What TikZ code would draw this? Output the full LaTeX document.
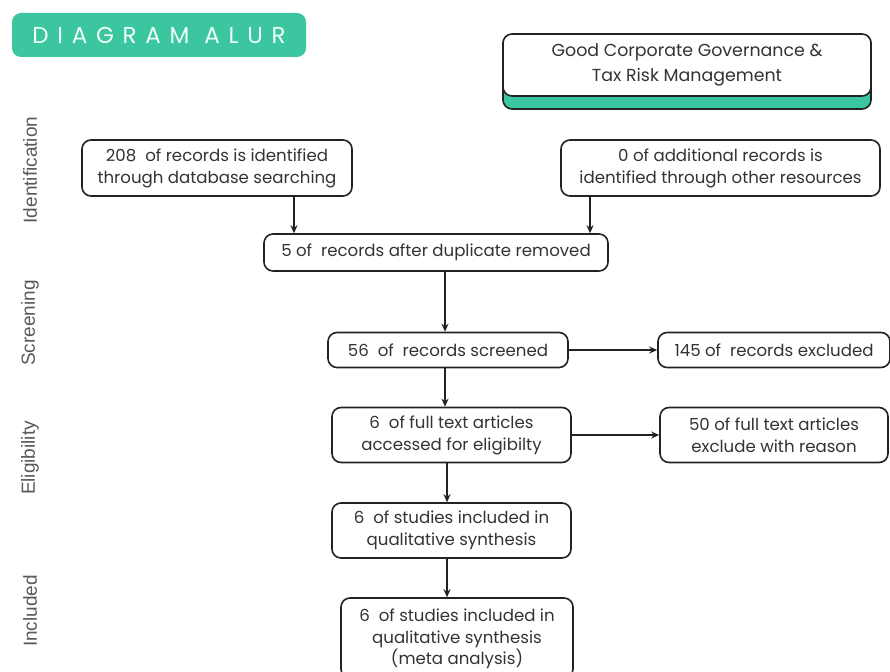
\documentclass[tikz,border=0pt]{standalone}
\usepackage{fontspec}
\setmainfont{Poppins}
\newfontfamily\sidefont{Liberation Sans}
\usetikzlibrary{arrows.meta}
\definecolor{teal1}{HTML}{3CC6A0}
\definecolor{ink}{HTML}{222222}
\definecolor{txt}{HTML}{333333}
\definecolor{mint}{HTML}{EFFFF8}
\tikzset{
  box/.style={draw=ink, line width=1.6pt, rounded corners=9pt, fill=white, align=center,
    text=txt, font=\fontsize{16.6}{22}\selectfont, inner sep=0pt},
  conn/.style={draw=ink, line width=1.7pt, -{Stealth[length=8pt,width=7pt]}},
  side/.style={rotate=90, text=black!65, font=\sidefont\fontsize{19}{22}\selectfont}
}
\begin{document}
\begin{tikzpicture}[x=1pt,y=-1pt]
\clip (0,0) rectangle (890,671);
\fill[white] (0,0) rectangle (890,671);
% title
\node[fill=teal1, rounded corners=9pt, minimum width=294pt, minimum height=44pt, inner sep=0pt,
  text=mint, font=\fontsize{23}{26}\selectfont\addfontfeature{LetterSpace=38}] (title) at (159,35) {DIAGRAM ALUR};
% GCG
\node[draw=ink, line width=1.6pt, rounded corners=9pt, fill=teal1, minimum width=368pt, minimum height=74pt] (gcgbase) at (687,72) {};
\node[box, minimum width=368pt, minimum height=62pt, font=\fontsize{17.4}{25}\selectfont] (gcg) at (687,65) {Good Corporate Governance \&\\Tax Risk Management};
% side labels
\node[side] (lid) at (30,170) {Identification};
\node[side] (lsc) at (30,323) {Screening};
\node[side] (lel) at (30,458) {Eligibility};
\node[side] (lin) at (30,611) {Included};
% boxes
\node[box, minimum width=270pt, minimum height=56pt] (a) at (217,168) {208\ \ of records is identified\\through database searching};
\node[box, minimum width=319pt, minimum height=56pt] (b) at (720.5,168) {0 of additional records is\\identified through other resources};
\node[box, minimum width=344pt, minimum height=37pt] (c) at (436,252.5) {5 of\ \ records after duplicate removed};
\node[box, minimum width=240pt, minimum height=35pt] (d) at (448,350) {56\ \ of\ \ records screened};
\node[box, minimum width=232pt, minimum height=35pt] (e) at (774,350) {145 of\ \ records excluded};
\node[box, minimum width=239pt, minimum height=55pt] (f) at (451.5,435) {6\ \ of full text articles\\accessed for eligibilty};
\node[box, minimum width=228pt, minimum height=55pt] (g) at (774,435) {50 of full text articles\\exclude with reason};
\node[box, minimum width=239pt, minimum height=55pt] (h) at (451.5,530.5) {6\ \ of studies included in\\qualitative synthesis};
\node[box, minimum width=232pt, minimum height=80pt] (i) at (457,638) {};
\node[align=center, text=txt, font=\fontsize{16.6}{21.5}\selectfont, inner sep=0pt] (itext) at (457,639) {6\ \ of studies included in\\qualitative synthesis\\(meta analysis)};
% connectors
\draw[conn] (a.south -| 294,0) -- (c.north -| 294,0);
\draw[conn] (b.south -| 590,0) -- (c.north -| 590,0);
\draw[conn] (c.south -| 445,0) -- (d.north -| 445,0);
\draw[conn] (d.east) -- (e.west);
\draw[conn] (d.south -| 445,0) -- (f.north -| 445,0);
\draw[conn] (f.east) -- (g.west);
\draw[conn] (f.south -| 447,0) -- (h.north -| 447,0);
\draw[conn] (h.south -| 447,0) -- (i.north -| 447,0);
\end{tikzpicture}
\end{document}
